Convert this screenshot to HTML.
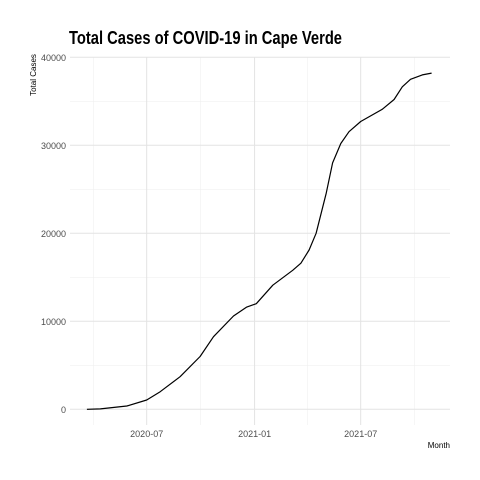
<!DOCTYPE html>
<html><head><meta charset="utf-8"><style>
body{margin:0;background:#fff;}
svg{display:block;font-family:"Liberation Sans",sans-serif;}
</style></head><body>
<svg id="chart" width="480" height="480">
<rect width="480" height="480" fill="#fff"/>
<text x="69" y="44" font-size="18" font-weight="bold" fill="#000" textLength="273" lengthAdjust="spacingAndGlyphs">Total Cases of COVID-19 in Cape Verde</text>
<text transform="translate(36,75) rotate(-90)" font-size="8" text-anchor="middle" fill="#000">Total Cases</text>
<text x="450" y="448" font-size="8" text-anchor="end" fill="#000">Month</text>
<g id="grid"></g><g id="axes"></g><g id="series"></g>
</svg>
<script>
const dates=["2020-03-21","2020-04-13","2020-05-28","2020-07-01","2020-07-24","2020-08-27","2020-09-30","2020-10-23","2020-11-26","2020-12-18","2021-01-04","2021-02-01","2021-03-07","2021-03-21","2021-04-04","2021-04-16","2021-05-03","2021-05-14","2021-05-28","2021-06-11","2021-07-01","2021-08-07","2021-08-27","2021-09-10","2021-09-24","2021-10-14","2021-10-30"];
const cases=[0,40,375,1060,2000,3700,6000,8250,10600,11600,12000,14100,15800,16600,18100,20000,24500,28000,30200,31550,32700,34100,35200,36650,37500,38000,38200];
const yTicks=[0,10000,20000,30000,40000];
const yMinor=[5000,15000,25000,35000];
const xTicks=["2020-07-01","2021-01-01","2021-07-01"];
const xTickLabels=["2020-07","2021-01","2021-07"];
const xMinor=["2020-04-01","2020-10-01","2021-04-01","2021-10-01"];

const NS="http://www.w3.org/2000/svg";
const day=s=>Date.parse(s+"T00:00:00Z")/86400000;
const d0=day("2020-07-01"),d1=day("2021-07-01");
const xs=s=>146.7+(day(s)-d0)*(360.7-146.7)/(d1-d0);
const ys=v=>409.3-v*0.0088;
const L=70,R=450,T=57,B=425;
function mk(tag,attrs,parent){const e=document.createElementNS(NS,tag);for(const k in attrs)e.setAttribute(k,attrs[k]);parent.appendChild(e);return e;}
const grid=document.getElementById('grid'),axes=document.getElementById('axes'),series=document.getElementById('series');
yMinor.forEach(v=>{const e=mk('line',{x1:L,x2:R,y1:ys(v),y2:ys(v),stroke:'#f0f0f0','stroke-width':0.6},grid);

});
xMinor.forEach(s=>{const e=mk('line',{x1:xs(s),x2:xs(s),y1:T,y2:B,stroke:'#f0f0f0','stroke-width':0.6},grid);

});
yTicks.forEach(v=>{const e=mk('line',{x1:L,x2:R,y1:ys(v),y2:ys(v),stroke:'#e3e3e3','stroke-width':1},grid);


const t=mk('text',{x:66,y:ys(v)+3.5,'font-size':9,'text-anchor':'end',fill:'#4d4d4d'},axes);t.textContent=v;

});
xTicks.forEach((s,i)=>{const e=mk('line',{x1:xs(s),x2:xs(s),y1:T,y2:B,stroke:'#e3e3e3','stroke-width':1},grid);


const t=mk('text',{x:xs(s),y:437,'font-size':9,'text-anchor':'middle',fill:'#4d4d4d'},axes);t.textContent=xTickLabels[i];

});
const p=mk('polyline',{points:dates.map((s,i)=>xs(s).toFixed(1)+','+ys(cases[i]).toFixed(1)).join(' '),fill:'none',stroke:'#000','stroke-width':1.2,'stroke-linejoin':'round'},series);


</script>
</body></html>
